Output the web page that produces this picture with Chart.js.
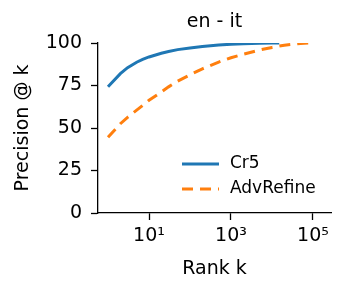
<!DOCTYPE html>
<html>
<head>
<meta charset="utf-8">
<script src="https://cdn.jsdelivr.net/npm/chart.js@4/dist/chart.umd.min.js"></script>
<style>
html,body{margin:0;padding:0;background:#fff;}
#wrap{width:353px;height:295px;position:relative;}
</style>
</head>
<body>
<div id="wrap"><canvas id="c" width="353" height="295"></canvas></div>
<script>
const chartTitle = "en - it";
const xAxisTitle = "Rank k";
const yAxisTitle = "Precision @ k";

const cr5Label = "Cr5";
const cr5Ranks = [1, 2, 3, 5, 7, 10, 20, 30, 50, 100, 200, 500, 1000, 2000, 5000, 10000, 15000];
const cr5Precision = [74.3, 82, 85.5, 88.7, 90.4, 91.8, 94.0, 95.0, 96.1, 97.0, 97.9, 98.8, 99.3, 99.6, 99.9, 100, 100];

const advLabel = "AdvRefine";
const advRanks = [1, 2, 3, 5, 7, 10, 20, 30, 50, 100, 200, 500, 1000, 2000, 5000, 10000, 20000, 50000, 85000];
const advPrecision = [44.5, 52.5, 56.3, 60.5, 63.3, 66.3, 71.2, 74.2, 77.6, 81.3, 84.8, 88.8, 91.3, 93.4, 95.9, 97.4, 98.7, 99.7, 100];

const xTickValues = [10, 1000, 100000];
const xTickLabels = ["10\u00B9", "10\u00B3", "10\u2075"];
const yTickValues = [0, 25, 50, 75, 100];

const FONT = "'DejaVu Sans', sans-serif";

function pts(xs, ys) { return xs.map((x, i) => ({x: x, y: ys[i]})); }

const titleAndLegendPlugin = {
  id: 'titleAndLegend',
  afterDraw(chart) {
    const ctx = chart.ctx, a = chart.chartArea;
    ctx.save();
    // title centered over the plot area
    ctx.fillStyle = '#000';
    ctx.font = "19px " + FONT;
    ctx.textAlign = 'center';
    ctx.textBaseline = 'middle';
    ctx.fillText(chartTitle, (a.left + a.right) / 2, a.top - 21);
    // legend inside the plot area
    chart.data.datasets.forEach((ds, i) => {
      const y = a.top + 121 + i * 25;
      const x0 = a.left + 84, x1 = a.left + 121;
      ctx.strokeStyle = ds.borderColor;
      ctx.lineWidth = ds.borderWidth;
      ctx.setLineDash(ds.borderDash || []);
      ctx.lineCap = 'butt';
      ctx.beginPath(); ctx.moveTo(x0, y); ctx.lineTo(x1, y); ctx.stroke();
      ctx.setLineDash([]);
      ctx.fillStyle = '#000';
      ctx.font = "17px " + FONT;
      ctx.textBaseline = 'middle';
      ctx.textAlign = 'left';
      ctx.fillText(ds.label, a.left + 132, y);
    });
    ctx.restore();
  }
};

new Chart(document.getElementById('c'), {
  type: 'line',
  data: {
    datasets: [
      {label: cr5Label, data: pts(cr5Ranks, cr5Precision), borderColor: '#1f77b4', borderWidth: 3, pointRadius: 0, fill: false, tension: 0},
      {label: advLabel, data: pts(advRanks, advPrecision), borderColor: '#ff7f0e', borderWidth: 3, borderDash: [11, 7], pointRadius: 0, fill: false, tension: 0}
    ]
  },
  options: {
    responsive: false,
    animation: false,
    devicePixelRatio: 1,
    layout: {padding: {left: 0, right: 22, top: 43, bottom: 0}},
    plugins: {
      legend: {display: false},
      tooltip: {enabled: false},
      title: {display: false}
    },
    scales: {
      x: {
        type: 'logarithmic',
        min: 0.57, max: 275000,
        border: {display: true, color: '#000', width: 1.3},
        grid: {display: true, drawOnChartArea: false, drawTicks: true, tickLength: 7, tickColor: '#000', tickWidth: 1.3},
        afterBuildTicks: (s) => { s.ticks = xTickValues.map(v => ({value: v})); },
        afterFit: (s) => { s.height = 82; },
        ticks: {
          color: '#000', font: {family: FONT, size: 19}, padding: 5, maxRotation: 0, autoSkip: false,
          callback: (v) => { const i = xTickValues.indexOf(v); return i >= 0 ? xTickLabels[i] : ''; }
        },
        title: {display: true, text: xAxisTitle, color: '#000', font: {family: FONT, size: 19}, padding: {top: 0, bottom: 15}}
      },
      y: {
        min: 0, max: 100,
        border: {display: true, color: '#000', width: 1.3},
        grid: {display: true, drawOnChartArea: false, drawTicks: true, tickLength: 7, tickColor: '#000', tickWidth: 1.3},
        afterBuildTicks: (s) => { s.ticks = yTickValues.map(v => ({value: v})); },
        afterFit: (s) => { s.width = 98; },
        ticks: {color: '#000', font: {family: FONT, size: 19}, padding: 9},
        title: {display: true, text: yAxisTitle, color: '#000', font: {family: FONT, size: 19}, padding: {top: 12, bottom: 0}}
      }
    }
  },
  plugins: [titleAndLegendPlugin]
});
</script>
</body>
</html>
